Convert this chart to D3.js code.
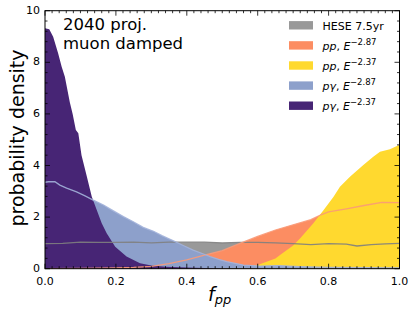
<!DOCTYPE html>
<html>
<head>
<meta charset="utf-8">
<script src="https://cdn.jsdelivr.net/npm/d3@7"></script>
<style>
  html, body { margin: 0; padding: 0; background: #fff; }
  svg { display: block; font-family: "DejaVu Sans", sans-serif; }
</style>
</head>
<body>
<div id="chart"></div>
<script>
// [f_pp, probability density]
const heseData = [[0,0.97],[0.05,0.98],[0.1,1.03],[0.15,1.02],[0.2,1.02],[0.25,1.03],[0.3,1.0],[0.35,1.03],[0.4,1.03],[0.45,1.03],[0.5,1.0],[0.55,1.02],[0.6,1.02],[0.65,1.0],[0.7,0.97],[0.75,0.93],[0.8,0.97],[0.85,0.95],[0.88,0.88],[0.92,0.93],[0.96,0.96],[1.0,0.98]];
const ppSoftData = [[0,0],[0.1,0.01],[0.2,0.03],[0.25,0.05],[0.3,0.09],[0.35,0.2],[0.4,0.34],[0.45,0.53],[0.5,0.7],[0.55,0.98],[0.6,1.25],[0.65,1.5],[0.7,1.7],[0.75,1.9],[0.78,2.1],[0.8,2.2],[0.85,2.32],[0.9,2.45],[0.95,2.57],[1.0,2.56]];
const ppHardData = [[0,0],[0.4,0],[0.5,0.02],[0.55,0.05],[0.6,0.14],[0.65,0.4],[0.663,0.53],[0.7,0.9],[0.72,1.18],[0.757,1.76],[0.786,2.28],[0.814,2.79],[0.832,3.18],[0.861,3.57],[0.898,4.02],[0.926,4.34],[0.945,4.53],[0.973,4.63],[1.0,4.8]];
const pgSoftData = [[0,3.35],[0.01,3.37],[0.028,3.37],[0.042,3.24],[0.061,3.12],[0.089,2.98],[0.113,2.82],[0.136,2.66],[0.165,2.47],[0.188,2.28],[0.221,2.02],[0.249,1.82],[0.277,1.6],[0.306,1.45],[0.33,1.28],[0.353,1.14],[0.367,1.05],[0.39,0.9],[0.418,0.72],[0.445,0.58],[0.466,0.47],[0.49,0.36],[0.513,0.27],[0.56,0.14],[0.607,0.1],[0.66,0.12],[0.72,0.08],[0.8,0.05],[0.9,0.04],[1.0,0.03]];
const pgHardData = [[0,9.32],[0.012,9.28],[0.023,8.99],[0.037,8.35],[0.047,7.83],[0.056,7.44],[0.07,6.45],[0.078,6.0],[0.087,5.38],[0.094,5.25],[0.103,4.4],[0.118,3.57],[0.132,2.79],[0.146,2.28],[0.16,1.76],[0.174,1.37],[0.198,0.85],[0.23,0.47],[0.268,0.21],[0.3,0.12],[0.34,0.08],[0.4,0.05],[0.45,0.03],[0.5,0.01],[0.6,0],[1.0,0]];

const xTicks = [0, 0.2, 0.4, 0.6, 0.8, 1.0];
const yTicks = [0, 2, 4, 6, 8, 10];

// drawing order: first is at the bottom
const series = [
  { key: "hese", data: heseData, fill: "#999999", line: "#7f7f7f" },
  { key: "ppSoft", data: ppSoftData, fill: "#fc8d62", line: "#f99a78" },
  { key: "ppHard", data: ppHardData, fill: "#ffd92f", line: null },
  { key: "pgSoft", data: pgSoftData, fill: "#8da0cb", line: "#a3b3da" },
  { key: "pgHard", data: pgHardData, fill: "#472575", line: null }
];

const W = 415, H = 314;
const pLeft = 45, pRight = 399.5, pTop = 10.7, pBottom = 268.7;

const svg = d3.select("#chart").append("svg")
  .attr("width", W).attr("height", H);

const x = d3.scaleLinear().domain([0, 1]).range([pLeft, pRight]);
const y = d3.scaleLinear().domain([0, 10]).range([pBottom, pTop]);

svg.append("clipPath").attr("id", "plotclip")
  .append("rect").attr("x", pLeft).attr("y", pTop)
  .attr("width", pRight - pLeft).attr("height", pBottom - pTop);

const plot = svg.append("g").attr("clip-path", "url(#plotclip)");

const area = d3.area().x(d => x(d[0])).y0(y(0)).y1(d => y(d[1]));
const line = d3.line().x(d => x(d[0])).y(d => y(d[1]));

series.forEach(s => {
  plot.append("path").datum(s.data)
    .attr("d", area).attr("fill", s.fill);
});
series.filter(s => s.line).forEach(s => {
  plot.append("path").datum(s.data)
    .attr("d", line).attr("fill", "none")
    .attr("stroke", s.line).attr("stroke-width", 1.3)
    .attr("stroke-opacity", 0.9);
});

// ticks, all pointing inward
const ax = svg.append("g").attr("stroke", "#000").attr("stroke-width", 0.8);
const xMinor = d3.range(0, 1.0001, 0.02);
const yMinor = d3.range(0, 10.0001, 0.4);
xMinor.forEach(v => {
  const major = xTicks.some(t => Math.abs(t - v) < 1e-6);
  const len = major ? 5 : 2.5;
  ax.append("line").attr("x1", x(v)).attr("x2", x(v)).attr("y1", pBottom).attr("y2", pBottom - len);
  ax.append("line").attr("x1", x(v)).attr("x2", x(v)).attr("y1", pTop).attr("y2", pTop + len);
});
yMinor.forEach(v => {
  const major = yTicks.some(t => Math.abs(t - v) < 1e-6);
  const len = major ? 5 : 2.5;
  ax.append("line").attr("x1", pLeft).attr("x2", pLeft + len).attr("y1", y(v)).attr("y2", y(v));
  ax.append("line").attr("x1", pRight).attr("x2", pRight - len).attr("y1", y(v)).attr("y2", y(v));
});

svg.append("rect")
  .attr("x", pLeft).attr("y", pTop)
  .attr("width", pRight - pLeft).attr("height", pBottom - pTop)
  .attr("fill", "none").attr("stroke", "#000").attr("stroke-width", 1);

svg.append("g").selectAll("text").data(xTicks).join("text")
  .attr("x", d => x(d)).attr("y", 285)
  .attr("text-anchor", "middle").attr("font-size", 11)
  .text(d => d.toFixed(1));

svg.append("g").selectAll("text").data(yTicks).join("text")
  .attr("x", 40).attr("y", d => y(d) + 3)
  .attr("text-anchor", "end").attr("font-size", 11)
  .text(d => d);

// axis labels
svg.append("text")
  .attr("transform", "translate(23.5,138) rotate(-90)")
  .attr("text-anchor", "middle").attr("font-size", 19)
  .text("probability density");

const xl = svg.append("text").attr("x", 208).attr("y", 301)
  .attr("font-size", 19).attr("font-style", "italic");
xl.append("tspan").text("f");
xl.append("tspan").attr("font-size", 13).attr("dy", 3).text("pp");

// annotation
svg.append("text").attr("x", 63).attr("y", 29.5).attr("font-size", 16.5).text("2040 proj.");
svg.append("text").attr("x", 63).attr("y", 48.5).attr("font-size", 16.5).text("muon damped");

// legend
const legendItems = [
  { color: "#999999", name: "HESE 7.5yr", exp: null },
  { color: "#fc8d62", name: "pp", exp: "\u22122.87" },
  { color: "#ffd92f", name: "pp", exp: "\u22122.37" },
  { color: "#8da0cb", name: "p\u03b3", exp: "\u22122.87" },
  { color: "#472575", name: "p\u03b3", exp: "\u22122.37" }
];
const lg = svg.append("g");
legendItems.forEach((d, i) => {
  const cy = 25.3 + i * 20.1;
  lg.append("rect").attr("x", 289).attr("y", cy - 4.2)
    .attr("width", 24).attr("height", 8.4).attr("fill", d.color);
  const t = lg.append("text").attr("x", 322.5).attr("y", cy + 4.3).attr("font-size", 11);
  if (!d.exp) {
    t.text(d.name);
  } else {
    t.append("tspan").attr("font-style", "italic").text(d.name);
    t.append("tspan").text(", ");
    t.append("tspan").attr("font-style", "italic").text("E");
    t.append("tspan").attr("font-size", 8.5).attr("dy", -5).text(d.exp);
  }
});
</script>
</body>
</html>
